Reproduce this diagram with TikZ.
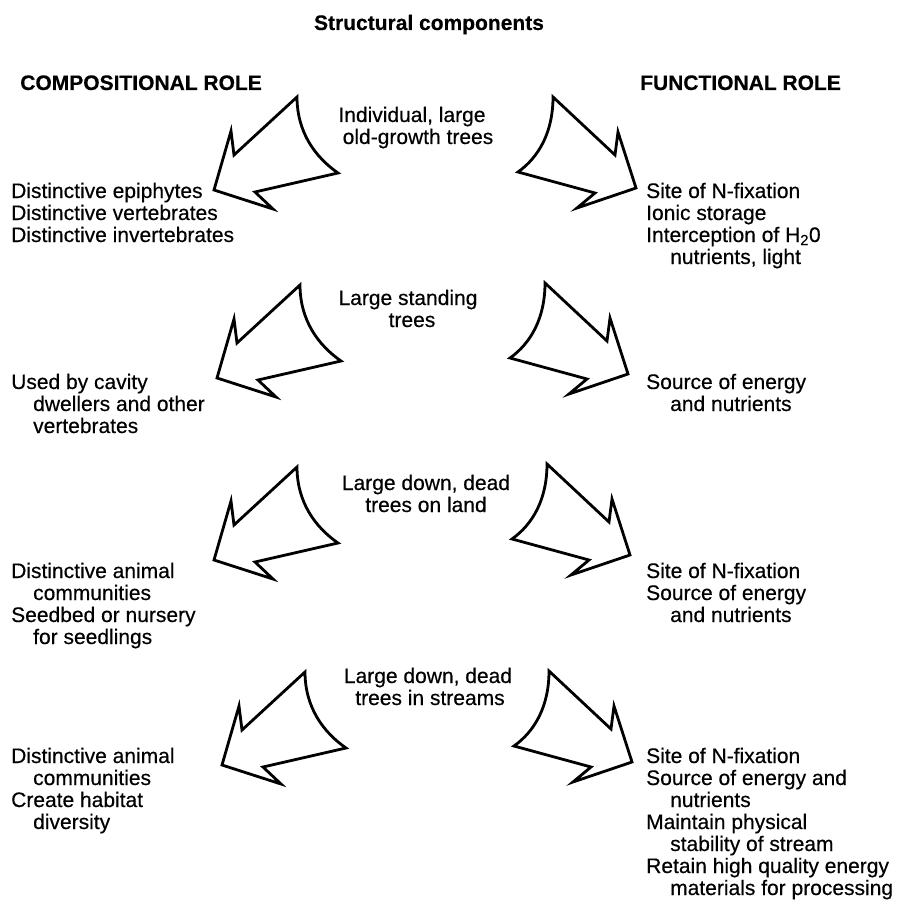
\documentclass[tikz,border=0pt]{standalone}
\usepackage{fontspec}
\setmainfont[FakeBold=0.4]{Liberation Sans}
\begin{document}
\begin{tikzpicture}[x=1pt,y=-1pt,
  fatarrow/.style={draw=black, line width=2.8pt, line join=miter, fill=white},
  txt/.style={font=\fontsize{21}{22}\selectfont, inner sep=0pt, anchor=base west},
  ctr/.style={font=\fontsize{21}{22}\selectfont, inner sep=0pt, anchor=base},
  head/.style={font=\fontsize{21}{22}\selectfont\bfseries, inner sep=0pt},
  leftarrow/.pic={\draw[fatarrow] (0,0) .. controls (0,35) and (18,60) .. (41,76)
      -- (-42,95) -- (-24,112) -- (-83,93) -- (-66,34) -- (-63,58) -- cycle;},
  rightarrow/.pic={\draw[fatarrow] (0,0) -- (62,58) -- (65,35) -- (83,91) -- (24,111)
      -- (42,96) -- (-35,75) .. controls (-14,60) and (0,35) .. (0,0) -- cycle;}
]
\useasboundingbox (0,0) rectangle (902,904);

% headings
\node[head, anchor=base] (title) at (429,30) {Structural components};
\node[head, anchor=base east] (comp) at (262,90) {COMPOSITIONAL ROLE};
\node[head, anchor=base west] (func) at (640,90) {FUNCTIONAL ROLE};

% arrows
\pic (al1) at (297,97) {leftarrow};
\pic (ar1) at (553,97) {rightarrow};
\pic (al2) at (300,285) {leftarrow};
\pic (ar2) at (545,283) {rightarrow};
\pic (al3) at (297,467) {leftarrow};
\pic (ar3) at (547,464) {rightarrow};
\pic (al4) at (305,672) {leftarrow};
\pic (ar4) at (549,671) {rightarrow};

% centre labels
\node[ctr] (c1a) at (412,122) {Individual, large};
\node[ctr] (c1b) at (418,144) {old-growth trees};
\node[ctr] (c2a) at (408,305) {Large standing};
\node[ctr] (c2b) at (412,327) {trees};
\node[ctr] (c3a) at (426,490) {Large down, dead};
\node[ctr] (c3b) at (426,512) {trees on land};
\node[ctr] (c4a) at (428,683) {Large down, dead};
\node[ctr] (c4b) at (430,705) {trees in streams};

% left column
\node[txt] (l1a) at (11,198) {Distinctive epiphytes};
\node[txt] (l1b) at (11,220) {Distinctive vertebrates};
\node[txt] (l1c) at (11,242) {Distinctive invertebrates};

\node[txt] (l2a) at (11,389) {Used by cavity};
\node[txt] (l2b) at (33,411) {dwellers and other};
\node[txt] (l2c) at (33,433) {vertebrates};

\node[txt] (l3a) at (11,578) {Distinctive animal};
\node[txt] (l3b) at (33,600) {communities};
\node[txt] (l3c) at (11,622) {Seedbed or nursery};
\node[txt] (l3d) at (33,644) {for seedlings};

\node[txt] (l4a) at (11,763) {Distinctive animal};
\node[txt] (l4b) at (33,785) {communities};
\node[txt] (l4c) at (11,807) {Create habitat};
\node[txt] (l4d) at (33,829) {diversity};

% right column
\node[txt] (r1a) at (646,198) {Site of N-fixation};
\node[txt] (r1b) at (646,220) {Ionic storage};
\node[txt] (r1c) at (646,242) {Interception of H\textsubscript{2}0};
\node[txt] (r1d) at (670,264) {nutrients, light};

\node[txt] (r2a) at (646,389) {Source of energy};
\node[txt] (r2b) at (670,411) {and nutrients};

\node[txt] (r3a) at (646,578) {Site of N-fixation};
\node[txt] (r3b) at (646,600) {Source of energy};
\node[txt] (r3c) at (670,622) {and nutrients};

\node[txt] (r4a) at (646,763) {Site of N-fixation};
\node[txt] (r4b) at (646,785) {Source of energy and};
\node[txt] (r4c) at (670,807) {nutrients};
\node[txt] (r4d) at (646,829) {Maintain physical};
\node[txt] (r4e) at (670,851) {stability of stream};
\node[txt] (r4f) at (646,873) {Retain high quality energy};
\node[txt] (r4g) at (670,895) {materials for processing};
\end{tikzpicture}
\end{document}
